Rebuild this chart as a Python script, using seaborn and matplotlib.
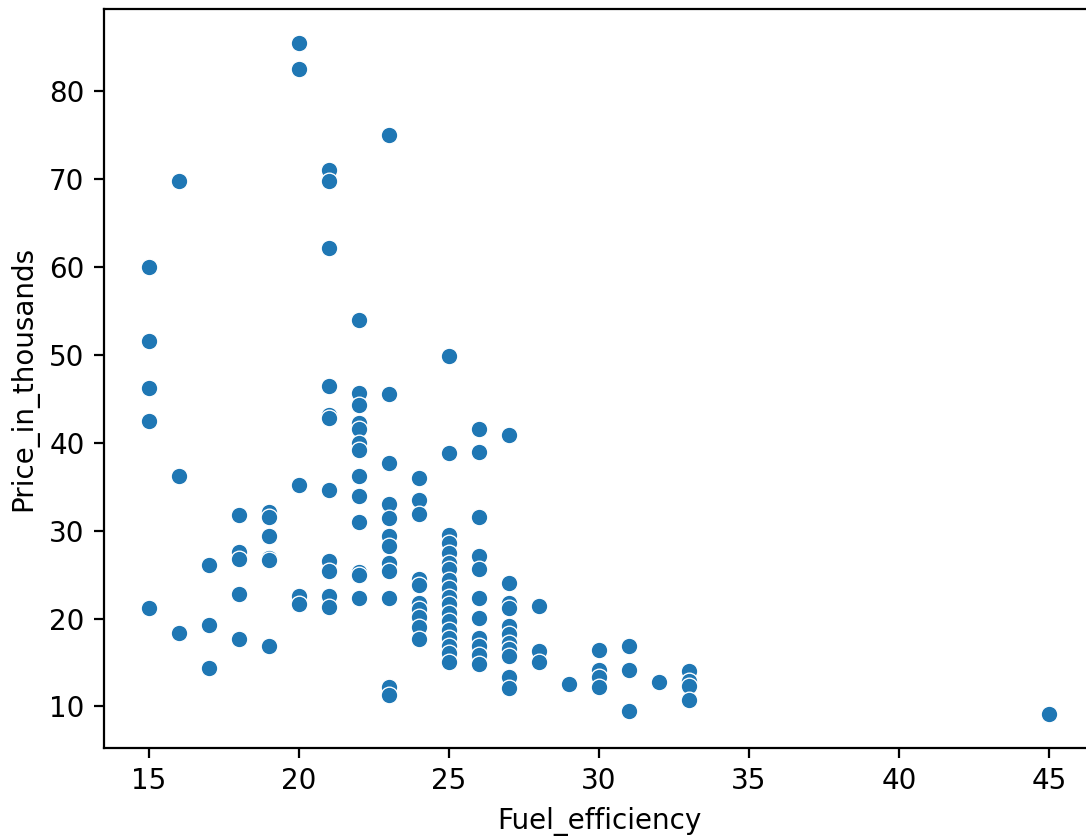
import matplotlib
matplotlib.use('Agg')
import matplotlib.pyplot as plt
import pandas as pd
import seaborn as sns

# Values, one row per fuel efficiency value
fuel_efficiency = (
    [15] * 5 + [16] * 3 + [17] * 3 + [18] * 5 + [19] * 6 + [20] * 5
    + [21] * 11 + [22] * 13 + [23] * 12 + [24] * 10 + [25] * 18
    + [26] * 11 + [27] * 11 + [28] * 3 + [29] * 1 + [30] * 4
    + [31] * 3 + [32] * 1 + [33] * 4 + [45] * 1
)

price_in_thousands = [
    60.0, 51.6, 46.2, 42.5, 21.2,                      # 15
    69.8, 36.2, 18.4,                                  # 16
    26.1, 19.3, 14.4,                                  # 17
    31.8, 27.6, 26.8, 22.8, 17.7,                      # 18
    32.1, 31.6, 29.4, 26.9, 26.6, 16.9,                # 19
    85.5, 82.5, 35.2, 22.6, 21.6,                      # 20
    71.0, 69.8, 62.1, 46.4, 43.1, 42.8, 34.6, 26.5, 25.4, 22.6, 21.3,  # 21
    53.9, 45.7, 44.3, 42.2, 41.5, 40.0, 39.2, 36.2, 33.9, 31.0, 25.3,
    24.9, 22.3,                                        # 22
    75.0, 45.5, 37.7, 33.0, 31.4, 29.4, 28.2, 26.3, 25.4, 22.3, 12.2,
    11.3,                                              # 23
    36.0, 33.5, 31.9, 24.5, 23.8, 21.8, 21.1, 20.2, 19.0, 17.7,  # 24
    49.8, 38.8, 29.5, 28.6, 27.5, 26.3, 25.6, 24.4, 23.5, 22.5, 21.6,
    20.6, 19.7, 18.75, 17.8, 16.9, 16.1, 15.0,         # 25
    41.6, 38.9, 31.5, 27.1, 25.6, 22.3, 20.1, 17.8, 16.9, 15.9, 14.8,  # 26
    40.9, 24.0, 21.8, 21.2, 19.1, 18.2, 17.2, 16.5, 15.7, 13.4, 12.1,  # 27
    21.4, 16.3, 15.1,                                  # 28
    12.6,                                              # 29
    16.4, 14.1, 13.4, 12.2,                            # 30
    16.9, 14.1, 9.5,                                   # 31
    12.8,                                              # 32
    14.0, 12.9, 12.3, 10.7,                            # 33
    9.1,                                               # 45
]

df = pd.DataFrame({'Fuel_efficiency': fuel_efficiency,
                   'Price_in_thousands': price_in_thousands})

fig = plt.figure(figsize=(5.43, 4.18), dpi=200)
# axes run slightly past the right edge, like the cropped reference
ax = fig.add_axes([0.0958, 0.1053, 0.9116, 0.884])

sns.scatterplot(data=df, x='Fuel_efficiency', y='Price_in_thousands', ax=ax)

fig.savefig('out.png', dpi=200)
